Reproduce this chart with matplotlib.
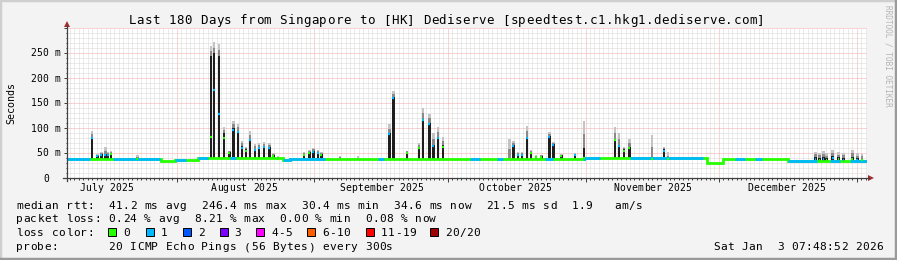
import numpy as np
import matplotlib
matplotlib.use("Agg")
import matplotlib.pyplot as plt
from matplotlib.lines import Line2D
from matplotlib.patches import Rectangle, Polygon
from datetime import datetime

# --- data (days from start of the 180 day window) ---
start = datetime(2025, 7, 7, 7, 48, 52)
month_labels = ["July 2025", "August 2025", "September 2025",
                "October 2025", "November 2025", "December 2025"]

# median rtt baseline, step segments
base_start = [0, 21.2, 24.3, 29.5, 48.6, 50.2, 85.3, 116.3, 144.0, 147.6, 162.2]
base_level = [38, 34, 36, 39.5, 36, 39, 37.5, 39.5, 31, 37.5, 35]

# ranges where median was drawn with loss colour "1" (blue)
blue_from = [0, 10.4, 24.3, 29.5, 36.7, 48.6, 70.0, 90.7, 96.8, 107.6,
             116.1, 126.7, 150.3, 154.8, 162.2, 171.7, 176.2]
blue_to = [5.2, 20.9, 26.8, 31.7, 38.0, 58.1, 71.3, 92.9, 98.1, 109.4,
           119.9, 143.1, 152.6, 156.4, 168.8, 173.9, 180]

# spikes: day, top of dark smoke, top of light smoke, median, loss class
spike_day = [5.6, 6.8, 7.7, 8.6, 9.2, 9.9, 15.8, 32.4, 33.1, 34.2, 35.3, 36.5,
             37.4, 38.5, 39.4, 40.3, 41.2, 42.3, 43.2, 44.3, 45.5, 46.4, 47.5,
             53.3, 54.5, 55.4, 56.5, 57.2, 61.4, 65.5, 72.5, 73.4, 76.5, 79.2,
             80.1, 81.5, 82.4, 83.5, 84.6, 99.5, 100.4, 101.5, 102.4, 103.5,
             104.4, 105.5, 106.7, 108.5, 109.4, 111.2, 114.3, 116.3, 123.3,
             124.2, 125.3, 126.5, 131.6, 134.3, 135.2, 168.4, 169.3, 170.2,
             170.9, 172.3, 173.6, 174.7, 176.7, 177.8, 178.9]
spike_dark = [82, 44, 48, 48, 48, 50, 38, 245, 250, 245, 90, 52,
              100, 95, 64, 58, 79, 59, 62, 63, 63, 47, 38,
              48, 52, 55, 53, 49, 38, 38, 90, 163, 52, 62,
              119, 111, 67, 82, 67, 38, 66, 48, 48, 82,
              53, 44, 45, 84, 68, 46, 48, 60, 79,
              66, 58, 62, 38, 58, 38, 42, 41, 43,
              40, 44, 42, 41, 43, 40, 39]
spike_smoke = [95, 48, 52, 62, 52, 55, 47, 265, 272, 268, 102, 55,
               115, 108, 75, 62, 95, 68, 71, 72, 70, 50, 45,
               52, 56, 60, 56, 52, 45, 44, 108, 175, 55, 70,
               141, 128, 90, 102, 82, 79, 75, 52, 52, 105,
               57, 46, 47, 92, 72, 48, 50, 115, 102,
               90, 62, 79, 87, 62, 52, 53, 51, 55,
               50, 56, 52, 50, 57, 50, 48]
spike_med = [80, 44, 46, 47, 47, 48, 38, 82, 176, 128, 80, 50,
             96, 92, 60, 55, 76, 57, 60, 62, 61, 45, 38,
             46, 50, 53, 50, 47, 38, 38, 88, 160, 50, 60,
             117, 108, 65, 80, 62, 38, 64, 46, 46, 80,
             50, 43, 43, 82, 66, 45, 46, 40, 77,
             64, 55, 60, 38, 55, 38, 38, 37, 39,
             37, 40, 38, 37, 39, 37, 36]
spike_loss = [1, 1, 1, 1, 1, 0, 0, 0, 1, 1, 0, 0,
              1, 1, 1, 0, 1, 1, 1, 1, 1, 0, 0,
              0, 0, 1, 1, 0, 0, 0, 1, 1, 0, 0,
              1, 1, 1, 1, 0, 0, 1, 1, 1, 1,
              0, 0, 0, 1, 1, 0, 1, 0, 0,
              1, 0, 0, 0, 1, 0, 1, 0, 1,
              0, 1, 0, 1, 0, 1, 0]

loss_names = ["0", "1", "2", "3", "4-5", "6-10", "11-19", "20/20"]
loss_colors = ["#26ff00", "#00b8ff", "#0059ff", "#7e00ff",
               "#ff00ff", "#ff5e00", "#ff0000", "#a10000"]

title = "Last 180 Days from Singapore to [HK] Dediserve [speedtest.c1.hkg1.dediserve.com]"
rtt_line = "median rtt:  41.2 ms avg  246.4 ms max  30.4 ms min  34.6 ms now  21.5 ms sd  1.9   am/s"
loss_line = "packet loss: 0.24 % avg  8.21 % max  0.00 % min  0.08 % now"
probe_line = "probe:       20 ICMP Echo Pings (56 Bytes) every 300s"
stamp = "Sat Jan  3 07:48:52 2026"

# --- figure ---
W, H = 897, 260
MONO = "DejaVu Sans Mono"
fig = plt.figure(figsize=(W / 100, H / 100), dpi=100, facecolor="#f3f3f3")
X0, X1, Y0, Y1 = 67, 867, 178, 28
ax = fig.add_axes([X0 / W, 1 - Y0 / H, (X1 - X0) / W, (Y0 - Y1) / H])
ax.set_facecolor("white")
ax.set_xlim(0, 180)
ax.set_ylim(0, 300)


def px(x, y):
    return x / W, 1 - y / H


def mono(x, y, s, step, size, color="black"):
    # rrdtool spaces mono glyphs a bit wider than matplotlib does
    for i, ch in enumerate(s):
        if ch != " ":
            fig.text(*px(x + i * step, y), ch, fontsize=size, family=MONO,
                     va="baseline", ha="left", color=color)


# grid
first_midnight = (datetime(2025, 7, 8) - start).total_seconds() / 86400
months = [datetime(2025, m, 1) for m in range(8, 13)] + [datetime(2026, 1, 1)]
month_off = [(d - start).total_seconds() / 86400 for d in months]
ax.set_xticks(month_off)
ax.set_xticks(np.arange(first_midnight, 180, 1), minor=True)
ax.set_yticks(np.arange(0, 301, 50))
ax.set_yticks(np.arange(0, 301, 10), minor=True)
ax.grid(which="minor", color="#d8d8d8", lw=0.72, ls=(0, (1, 1)))
ax.grid(which="major", color="#f0a8a8", lw=0.72, ls=(0, (1, 1)))
ax.tick_params(which="both", labelbottom=False, labelleft=False,
               direction="out", color="#404040", width=0.72)
ax.tick_params(axis="x", which="major", length=3)
ax.tick_params(axis="x", which="minor", length=1.5)
ax.tick_params(axis="y", which="major", length=2)
ax.tick_params(axis="y", which="minor", length=1)
for s in ax.spines.values():
    s.set_visible(False)
ax.set_axisbelow(True)


def level_at(t):
    i = np.searchsorted(base_start, t, side="right") - 1
    return base_level[i]


# smoke spikes
bw = 0.6
bases = [level_at(t) for t in spike_day]
mid = [(d + s) / 2 for d, s in zip(spike_dark, spike_smoke)]
ax.bar(spike_day, np.array(spike_smoke) - np.array(mid), bottom=mid,
       width=bw, color="#c4c4c4", lw=0)
ax.bar(spike_day, np.array(mid) - np.array(spike_dark), bottom=spike_dark,
       width=bw, color="#8a8a8a", lw=0)
ax.bar(spike_day, np.array(spike_dark) - np.array(bases), bottom=bases,
       width=bw, color="#1e1e1e", lw=0)

# median line
edges = list(base_start) + [180]
ax.stairs(base_level, edges, baseline=None, color=loss_colors[0], lw=2.0)
for b0, b1 in zip(blue_from, blue_to):
    e = [b0] + [t for t in base_start if b0 < t < b1] + [b1]
    v = [level_at((e[i] + e[i + 1]) / 2) for i in range(len(e) - 1)]
    ax.stairs(v, e, baseline=None, color=loss_colors[1], lw=2.0)
for t, m, l in zip(spike_day, spike_med, spike_loss):
    ax.hlines(m, t - 0.2, t + 0.2, color=loss_colors[l], lw=1.6)

# axis lines with arrows
ax_col, arr_col = "#404040", "#a03030"
fig.add_artist(Line2D([63 / W, 869 / W], [1 - 178 / H] * 2, color=ax_col, lw=0.9))
fig.add_artist(Line2D([67 / W] * 2, [1 - 181 / H, 1 - 26 / H], color=ax_col, lw=0.9))
fig.add_artist(Polygon([px(874, 178), px(868, 175), px(868, 181)], closed=True,
                       color=arr_col, lw=0))
fig.add_artist(Polygon([px(67, 21), px(64, 27), px(70, 27)], closed=True,
                       color=arr_col, lw=0))

# y tick labels
for v in range(0, 301, 50):
    yy = Y0 - v * (Y0 - Y1) / 300 + 3.5
    if v == 0:
        mono(43, yy, "0", 6.0, 7)
    elif v < 300:
        lab = f"{v} m"
        mono(60 - len(lab) * 6.0 + 0.5, yy, lab, 6.0, 7)

# month labels centred on the 16th
for i, lab in enumerate(month_labels):
    d = datetime(2025, 7 + i, 16)
    off = (d - start).total_seconds() / 86400
    cx = X0 + off / 180 * (X1 - X0)
    mono(cx - len(lab) * 6.0 / 2 + 0.5, 191, lab, 6.0, 7)

fig.text(*px(11, 103), "Seconds", rotation=90, fontsize=7.2, family=MONO,
         ha="center", va="center")
mono(128.3, 24, title, 7.96, 9)
fig.text(*px(888, 5), "RRDTOOL / TOBI OETIKER", rotation=-90, fontsize=5.6,
         family=MONO, ha="center", va="top", color="#b4b4b4")

# legend
mono(16, 209, rtt_line, 7.12, 8)
mono(16, 222.5, loss_line, 7.12, 8)
mono(16, 236, "loss color:", 7.12, 8)
box_x = [108, 146, 183, 219.5, 256, 307, 366, 430]
for bx, name, c in zip(box_x, loss_names, loss_colors):
    fig.add_artist(Rectangle(px(bx, 236), 8 / W, 8 / H, facecolor=c,
                             edgecolor="black", lw=0.7))
    mono(bx + 15, 236, name, 7.12, 8)
mono(16, 250, probe_line, 7.12, 8)
mono(713, 250, stamp, 7.1, 8)

# bevelled frame
fig.add_artist(Rectangle((0, 0), 1, 1, fill=False, edgecolor="#cfcfcf", lw=2.5))
fig.add_artist(Line2D([0, 1], [0.002, 0.002], color="#9a9a9a", lw=2.5))
fig.add_artist(Line2D([0.999, 0.999], [0, 1], color="#9a9a9a", lw=2.5))

fig.savefig("out.png", dpi=100, facecolor=fig.get_facecolor())
